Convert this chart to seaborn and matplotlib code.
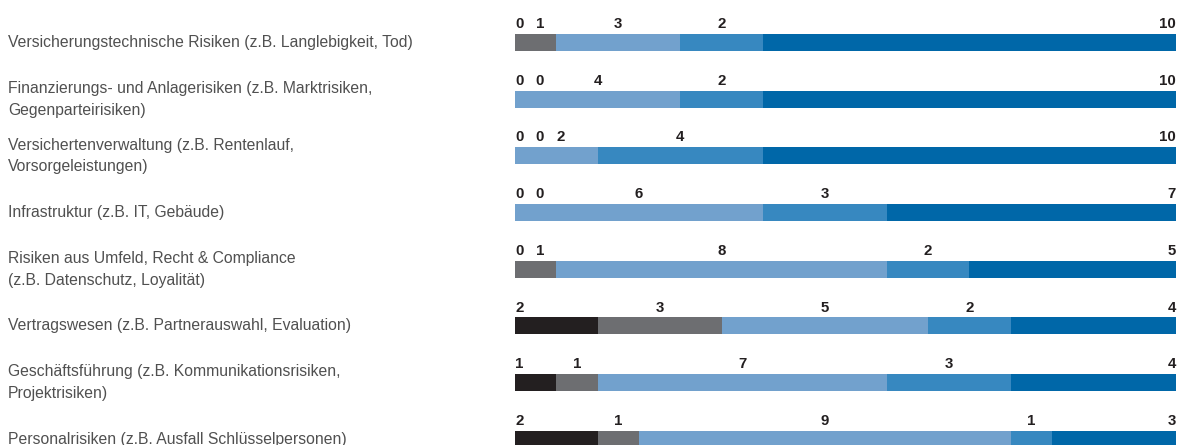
import numpy as np
import pandas as pd
import matplotlib
matplotlib.use("Agg")
import matplotlib.pyplot as plt
import seaborn as sns
from matplotlib.transforms import blended_transform_factory

# Risk areas (rows, top to bottom)
categories = [
    "Versicherungstechnische Risiken (z.B. Langlebigkeit, Tod)",
    "Finanzierungs- und Anlagerisiken (z.B. Marktrisiken,\nGegenparteirisiken)",
    "Versichertenverwaltung (z.B. Rentenlauf,\nVorsorgeleistungen)",
    "Infrastruktur (z.B. IT, Gebäude)",
    "Risiken aus Umfeld, Recht & Compliance\n(z.B. Datenschutz, Loyalität)",
    "Vertragswesen (z.B. Partnerauswahl, Evaluation)",
    "Geschäftsführung (z.B. Kommunikationsrisiken,\nProjektrisiken)",
    "Personalrisiken (z.B. Ausfall Schlüsselpersonen)",
]

# Number of answers per rating level, one list per level (left to right)
level_1 = [0, 0, 0, 0, 0, 2, 1, 2]
level_2 = [1, 0, 0, 0, 1, 3, 1, 1]
level_3 = [3, 4, 2, 6, 8, 5, 7, 9]
level_4 = [2, 2, 4, 3, 2, 2, 3, 1]
level_5 = [10, 10, 10, 7, 5, 4, 4, 3]

levels = [level_1, level_2, level_3, level_4, level_5]
colors = ["#231f20", "#6d6e71", "#72a1cd", "#3788c0", "#0067a8"]

sns.set_theme(style="white")
plt.rcParams["font.family"] = ["Liberation Sans", "DejaVu Sans"]

values = np.array(levels, dtype=float)          # shape (5, n_rows)
cum = np.cumsum(values, axis=0)
totals = cum[-1]

df = pd.DataFrame({"category": categories})
for k in range(len(levels)):
    df[f"cum_{k}"] = cum[k]

W, H, DPI = 1197, 445, 100
fig = plt.figure(figsize=(W / DPI, H / DPI), dpi=DPI)
ax = fig.add_axes([515 / W, 0, (1176 - 515) / W, 1])

# Stacked bars: draw cumulative totals from the longest to the shortest
for k in reversed(range(len(levels))):
    sns.barplot(data=df, x=f"cum_{k}", y="category", order=categories,
                color=colors[k], saturation=1, width=0.30, linewidth=0,
                orient="h", ax=ax)

ax.set_xlim(0, totals.max())
ax.set_ylim(7.1, -0.75)
ax.set_axis_off()

# Value labels above each bar
label_kw = dict(fontsize=10.8, fontweight="bold", color="#231f20", va="baseline")
n_levels = len(levels)
for i in range(len(categories)):
    prev = None
    for k in range(n_levels):
        v = values[k, i]
        start = cum[k, i] - v
        txt = f"{int(v)}"
        y = i - 0.255
        if k == 0:
            ax.text(0, y, txt, ha="left", **label_kw)
            prev = 0.1
        elif k == n_levels - 1:
            ax.text(totals[i], y, txt, ha="right", **label_kw)
        else:
            x = max(start + v / 2, prev + 0.5)
            ax.text(x, y, txt, ha="center", **label_kw)
            prev = x

# Row labels at the left edge of the figure
trans = blended_transform_factory(fig.transFigure, ax.transData)
for i, cat in enumerate(categories):
    ax.text(8 / W, i, cat, transform=trans, ha="left", va="center",
            fontsize=11.35, color="#505050", linespacing=1.55, clip_on=False)

fig.savefig("out.png", dpi=DPI)
